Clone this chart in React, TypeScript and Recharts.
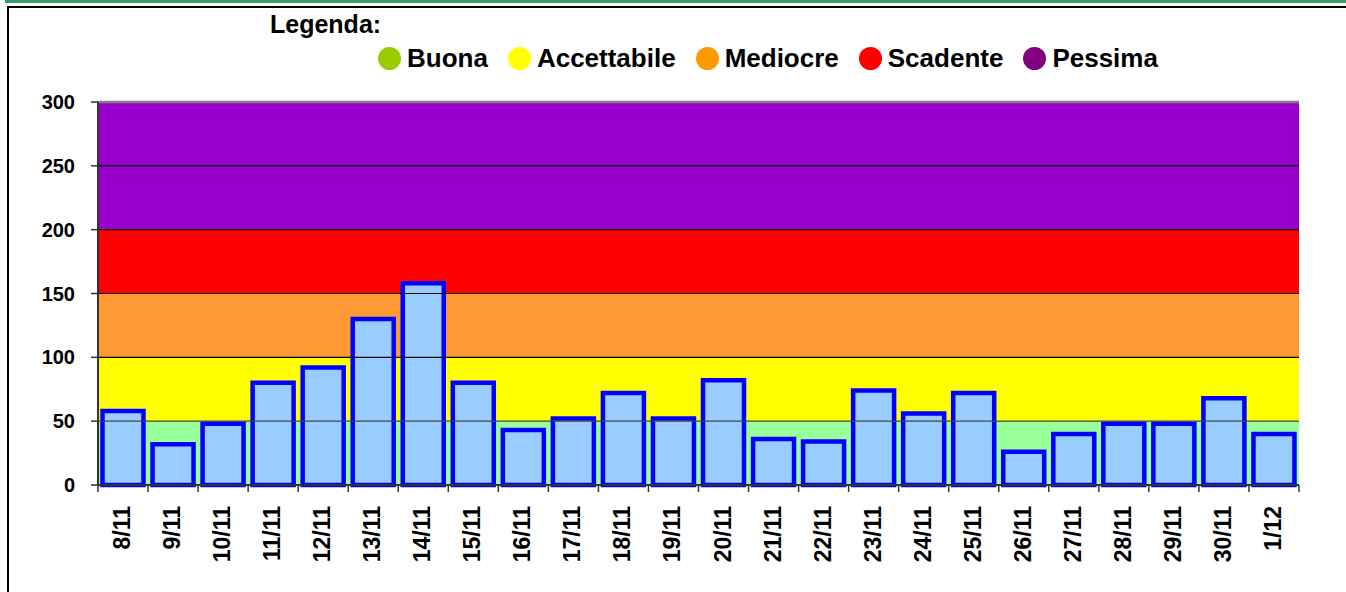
import React from 'react';
import { BarChart, Bar, XAxis, YAxis, ReferenceArea, ReferenceLine } from 'recharts';

const dates = ['8/11', '9/11', '10/11', '11/11', '12/11', '13/11', '14/11', '15/11', '16/11', '17/11', '18/11', '19/11', '20/11', '21/11', '22/11', '23/11', '24/11', '25/11', '26/11', '27/11', '28/11', '29/11', '30/11', '1/12'];
const values = [58, 32, 48, 80, 92, 130, 158, 80, 43, 52, 72, 52, 82, 36, 34, 74, 56, 72, 26, 40, 48, 48, 68, 40];

const yTicks = [0, 50, 100, 150, 200, 250, 300];
const bandLimits = [0, 50, 100, 150, 200, 300];
const bandColors = ['#99FF99', '#FFFF00', '#FF9933', '#FF0000', '#9900CC'];
const gridLines = [50, 100, 150, 200, 250];

const legendTitle = 'Legenda:';
const legendLabels = ['Buona', 'Accettabile', 'Mediocre', 'Scadente', 'Pessima'];
const legendColors = ['#99CC00', '#FFFF00', '#FF9900', '#FF0000', '#800080'];

const data = dates.map((d, i) => ({ date: d, value: values[i] }));

const FONT = '"Liberation Sans", Arial, sans-serif';

const XTick = (props: any) => {
  const { x, y, payload, index, visibleTicksCount, width } = props;
  const count = visibleTicksCount || dates.length;
  const half = width && count ? width / count / 2 : 25;
  return (
    <g>
      <line x1={x - half} x2={x - half} y1={y} y2={y + 7} stroke="#333" strokeWidth={1.5} />
      {index === count - 1 && (
        <line x1={x + half} x2={x + half} y1={y} y2={y + 7} stroke="#333" strokeWidth={1.5} />
      )}
      <text
        x={x + 7}
        y={y + 21}
        transform={`rotate(-90, ${x + 7}, ${y + 21})`}
        textAnchor="end"
        fontFamily={FONT}
        fontWeight="bold"
        fontSize={23}
        fill="#000"
      >
        {payload.value}
      </text>
    </g>
  );
};

export default function App() {
  return (
    <div style={{ position: 'absolute', left: 0, top: 0, width: 1346, height: 592, overflow: 'hidden', background: '#fff', fontFamily: FONT }}>
      <div style={{ position: 'absolute', left: 5, top: 0, width: 1341, height: 3, background: '#3d9c6c' }} />
      <div style={{ position: 'absolute', left: 7, top: 6, width: 1400, height: 700, borderTop: '2px solid #000', borderLeft: '2px solid #000' }} />
      <div style={{ position: 'absolute', left: 0, top: 0 }}>
        <BarChart
          width={1346}
          height={592}
          data={data}
          margin={{ top: 102, right: 47, bottom: 0, left: 0 }}
          barCategoryGap="9%"
        >
          {bandColors.map((c, i) => (
            <ReferenceArea
              key={'band' + i}
              y1={bandLimits[i]}
              y2={bandLimits[i + 1]}
              fill={c}
              fillOpacity={1}
              stroke="none"
              ifOverflow="visible"
            />
          ))}
          {gridLines.map((v) => (
            <ReferenceLine key={'g' + v} y={v} stroke={v === 50 ? '#444' : '#000'} strokeWidth={1.2} />
          ))}
          <ReferenceLine y={300} stroke="#808080" strokeWidth={2.5} />
          <XAxis
            dataKey="date"
            interval={0}
            height={107}
            tickSize={0}
            tickMargin={0}
            tickLine={false}
            axisLine={{ stroke: '#333', strokeWidth: 2 }}
            tick={<XTick />}
          />
          <YAxis
            domain={[0, 300]}
            ticks={yTicks}
            width={98}
            tickSize={7}
            tickMargin={16}
            interval={0}
            axisLine={{ stroke: '#333', strokeWidth: 2 }}
            tickLine={{ stroke: '#333', strokeWidth: 1.5 }}
            tick={{ fontFamily: FONT, fontWeight: 'bold', fontSize: 20, fill: '#000' }}
          />
          <YAxis
            yAxisId="right"
            orientation="right"
            width={0}
            domain={[0, 300]}
            tick={false}
            tickLine={false}
            axisLine={{ stroke: '#808080', strokeWidth: 2.5 }}
          />
          <Bar dataKey="value" fill="#99CCFF" stroke="#0000FF" strokeWidth={4.5} isAnimationActive={false} />
        </BarChart>
      </div>
      <div style={{ position: 'absolute', left: 270, top: 11, fontSize: 25, fontWeight: 'bold', lineHeight: '26px', color: '#000', whiteSpace: 'nowrap' }}>
        {legendTitle}
      </div>
      <div style={{ position: 'absolute', left: 378, top: 45, display: 'flex', alignItems: 'center', height: 26, whiteSpace: 'nowrap' }}>
        {legendLabels.map((l, i) => (
          <div key={l} style={{ display: 'flex', alignItems: 'center', marginRight: 20 }}>
            <span style={{ display: 'inline-block', width: 23, height: 23, borderRadius: '50%', background: legendColors[i], marginRight: 6 }} />
            <span style={{ fontSize: 26, fontWeight: 'bold', lineHeight: '26px', color: '#000' }}>{l}</span>
          </div>
        ))}
      </div>
    </div>
  );
}
